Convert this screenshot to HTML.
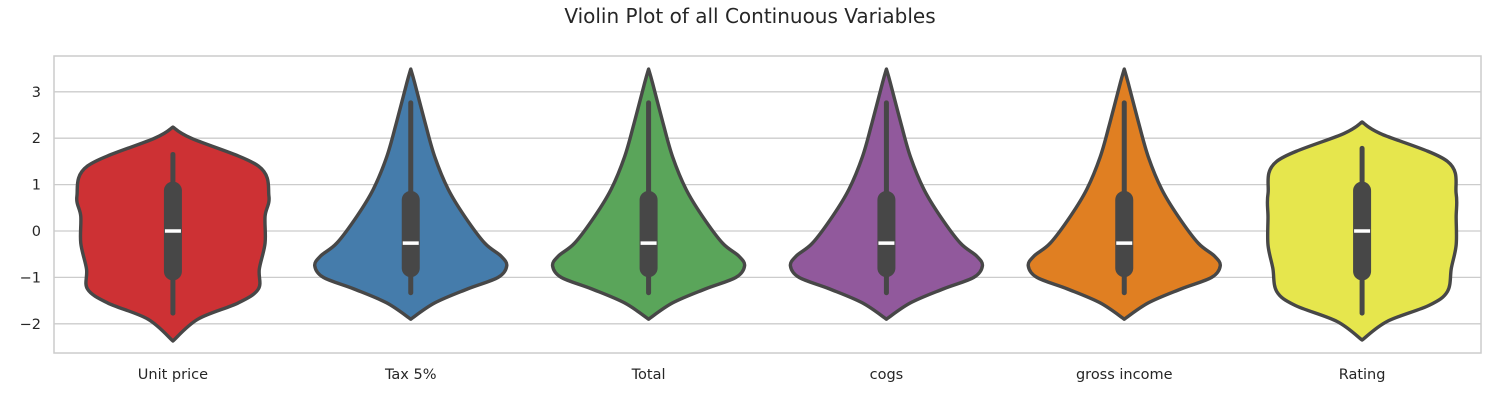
<!DOCTYPE html>
<html><head><meta charset="utf-8"><style>
body{margin:0;background:#fff;font-family:"Liberation Sans","DejaVu Sans",sans-serif}
svg text{font-family:"DejaVu Sans","Liberation Sans",sans-serif;fill:#262626}
</style></head><body>
<svg id="chart" width="1500" height="400">
<text x="750" y="23" text-anchor="middle" font-size="20">Violin Plot of all Continuous Variables</text>
<rect x="54" y="56" width="1427" height="297" fill="none" stroke="#cccccc" stroke-width="1.5"/>
<g id="grid"></g><g id="violins"></g><g id="labels"></g>
</svg>
<script>
const categories=["Unit price","Tax 5%","Total","cogs","gross income","Rating"];
const colors=["#cd3134","#457cab","#5aa55a","#91599c","#e07f22","#e6e64d"];
const yTicks=[3,2,1,0,-1,-2];
const uniformVals=[2.24,2.0,1.4,0.75,0.32,-0.26,-0.82,-1.25,-1.55,-1.9,-2.37];
const uniformWidths=[0,0.19,0.89,1.0,0.96,0.96,0.9,0.89,0.68,0.26,0];
const ratingVals=[2.35,2.1,1.5,0.8,0.3,-0.3,-0.8,-1.3,-1.6,-1.95,-2.35];
const ratingWidths=[0,0.19,0.89,0.98,0.98,0.98,0.93,0.89,0.7,0.26,0];
const skewVals=[3.49,3.2,2.33,1.6,0.9,0.32,-0.26,-0.54,-0.75,-1.0,-1.25,-1.55,-1.9];
const skewWidths=[0,0.04,0.15,0.25,0.39,0.56,0.77,0.94,1.0,0.91,0.59,0.25,0];
const whiskerHigh=[1.65,2.76,2.76,2.76,2.76,1.78];
const whiskerLow=[-1.77,-1.33,-1.33,-1.33,-1.33,-1.77];
const q3=[1.0,0.8,0.8,0.8,0.8,1.0];
const q1=[-1.0,-0.93,-0.93,-0.93,-0.93,-1.0];
const medians=[0,-0.26,-0.26,-0.26,-0.26,0];

const NS="http://www.w3.org/2000/svg";
const X0=54,X1=1481,Y0=56,Y1=353;
const y=v=>231-v*46.4;
const xc=i=>X0+(X1-X0)*(i+0.5)/categories.length;
const maxHW=96;
function mk(t,a,p){const e=document.createElementNS(NS,t);for(const k in a)e.setAttribute(k,a[k]);p.appendChild(e);return e;}
const grid=document.getElementById('grid'),vg=document.getElementById('violins'),lg=document.getElementById('labels');
yTicks.forEach(t=>{
 const l=mk('line',{x1:X0,x2:X1,y1:y(t),y2:y(t),stroke:'#cccccc','stroke-width':1.3},grid);
 
 
 const tx=mk('text',{x:41,y:y(t)+5,'text-anchor':'end','font-size':14.5},lg);
 tx.textContent=t<0?'\u2212'+(-t):String(t);
 
 
});
function smooth(pts){let d='M'+pts[0][0]+','+pts[0][1];
 for(let i=0;i<pts.length-1;i++){const p0=pts[Math.max(0,i-1)],p1=pts[i],p2=pts[i+1],p3=pts[Math.min(pts.length-1,i+2)];
  d+=' C'+(p1[0]+(p2[0]-p0[0])/6)+','+(p1[1]+(p2[1]-p0[1])/6)+' '+(p2[0]-(p3[0]-p1[0])/6)+','+(p2[1]-(p3[1]-p1[1])/6)+' '+p2[0]+','+p2[1];}
 return d;}
const profiles=[[uniformVals,uniformWidths],[skewVals,skewWidths],[skewVals,skewWidths],[skewVals,skewWidths],[skewVals,skewWidths],[ratingVals,ratingWidths]];
categories.forEach((c,i)=>{
 const cx=xc(i),[vals,ws]=profiles[i];
 const right=vals.map((v,k)=>[cx+ws[k]*maxHW,y(v)]);
 const left=vals.map((v,k)=>[cx-ws[k]*maxHW,y(v)]).reverse();
 const d=smooth(right)+' '+smooth(left).replace(/^M[^ ]+/,'')+' Z';
 const p=mk('path',{d:d,fill:colors[i],stroke:'#474747','stroke-width':3.4,'stroke-linejoin':'round'},vg);
 
 
 const w=mk('line',{x1:cx,x2:cx,y1:y(whiskerHigh[i]),y2:y(whiskerLow[i]),stroke:'#474747','stroke-width':5,'stroke-linecap':'round'},vg);
 
 
 const b=mk('line',{x1:cx,x2:cx,y1:y(q3[i])+6,y2:y(q1[i])-6,stroke:'#474747','stroke-width':18,'stroke-linecap':'round'},vg);
 
 
 const m=mk('line',{x1:cx-8,x2:cx+8,y1:y(medians[i]),y2:y(medians[i]),stroke:'#ffffff','stroke-width':3.5},vg);
 
 
 const t=mk('text',{x:cx,y:379,'text-anchor':'middle','font-size':14.5},lg);
 t.textContent=c;
 
 
});
</script>
</body></html>
